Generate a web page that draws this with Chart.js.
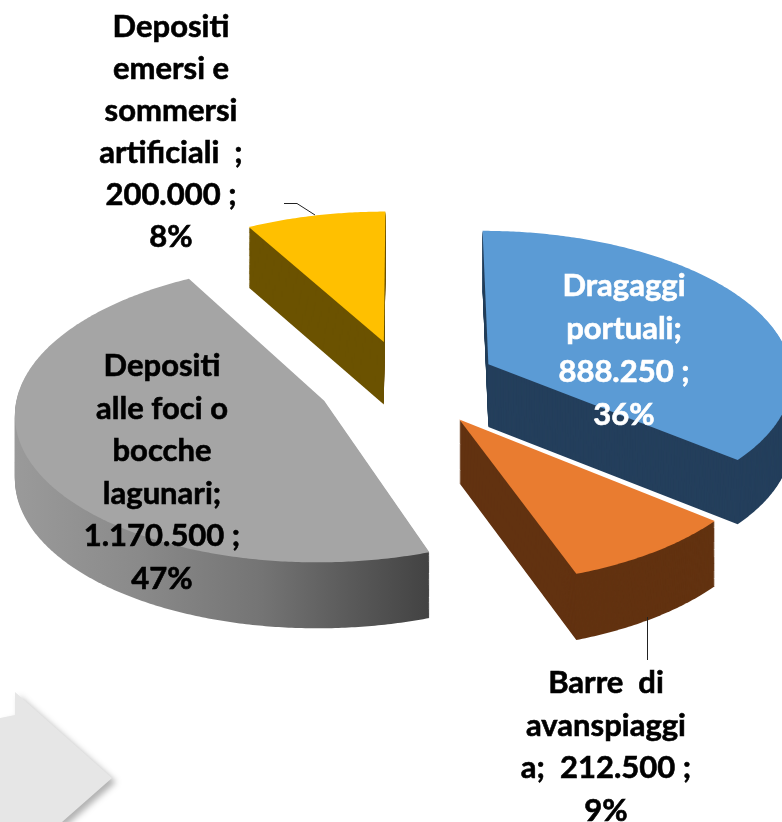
<!DOCTYPE html>
<html lang="it">
<head>
<meta charset="utf-8">
<title>Sedimenti</title>
<script src="https://cdn.jsdelivr.net/npm/chart.js@4"></script>
<style>
  html, body { margin: 0; background: #fff; }
  #wrap { position: relative; width: 782px; height: 822px; overflow: hidden; }
  #wrap canvas { position: relative; z-index: 1; }
  /* forma decorativa grigia in basso a sinistra */
  #deco { position: absolute; left: 0; top: 0; width: 782px; height: 822px; filter: drop-shadow(4px 4px 3px rgba(0,0,0,.3)); }
  #deco div { width: 100%; height: 100%; background: #e6e6e6;
    clip-path: polygon(0 718px, 15px 715px, 15px 692px, 112px 778px, 62px 822px, 0 822px); }
</style>
</head>
<body>
<div id="wrap">
  <div id="deco"><div></div></div>
  <canvas id="pie" width="782" height="822"></canvas>
</div>
<script>
// dati
const categories = ["Dragaggi portuali", "Barre di avanspiaggia", "Depositi alle foci o bocche lagunari", "Depositi emersi e sommersi artificiali"];
const volumes = [888250, 212500, 1170500, 200000];
const topColors = ["#5b9bd5", "#e97c30", "#a5a5a5", "#ffc000"];
const wallColors = ["#243f5c", "#623210", null, "#6b5200"];
const explode = [92, 91, 89, 90];
const drawOrder = [3, 0, 2, 1];

const labelLines = [
  ["Dragaggi", "portuali;", "888.250 ;", "36%"],
  ["Barre  di", "avanspiaggi", "a;  212.500 ;", "9%"],
  ["Depositi", "alle foci o", "bocche", "lagunari;", "1.170.500 ;", "47%"],
  ["Depositi", "emersi e", "sommersi", "artificiali  ;", "200.000 ;", "8%"],
];
const labelColors = ["#fff", "#000", "#000", "#000"];
const labelX = [624, 606, 162, 171];
const labelTop = [286, 683, 366, 27];
const labelStep = [43, 42.7, 42.6, 42];

// vista 3D: schiacciamento, prospettiva, spessore
const TILT = 0.48, PERSP = 0.00025, DEPTH = 63;

function project(arc, u, v) {
  const s = 1 / (1 - PERSP * v);
  return [arc.x + u * s, arc.y + TILT * v * s, s];
}

function slicePath(ctx, arc, ex, d) {
  const mid = (arc.startAngle + arc.endAngle) / 2;
  const ox = Math.cos(mid) * ex, oy = Math.sin(mid) * ex;
  const r = arc.outerRadius;
  const put = (u, v, first) => {
    const [x, y, s] = project(arc, u, v);
    const dy = d * (1 + (s - 1) / 2);
    if (first) ctx.moveTo(x, y + dy); else ctx.lineTo(x, y + dy);
  };
  ctx.beginPath();
  put(ox, oy, true);
  const steps = Math.ceil((arc.endAngle - arc.startAngle) / 0.01);
  for (let i = 0; i <= steps; i++) {
    const a = arc.startAngle + (arc.endAngle - arc.startAngle) * i / steps;
    put(ox + Math.cos(a) * r, oy + Math.sin(a) * r);
  }
  ctx.closePath();
}

const pie3d = {
  id: "pie3d",
  beforeDatasetDraw(chart) {
    const { ctx } = chart;
    const arcs = chart.getDatasetMeta(0).data;
    const grayWall = ctx.createLinearGradient(15, 0, 427, 0);
    grayWall.addColorStop(0, "#9a9a9a");
    grayWall.addColorStop(0.3, "#8a8a8a");
    grayWall.addColorStop(0.6, "#747474");
    grayWall.addColorStop(1, "#434343");
    for (const i of drawOrder) {
      ctx.save();
      ctx.fillStyle = wallColors[i] || grayWall;
      for (let d = DEPTH; d > 0; d--) {
        slicePath(ctx, arcs[i], explode[i], d);
        ctx.fill();
      }
      ctx.fillStyle = topColors[i];
      slicePath(ctx, arcs[i], explode[i], 0);
      ctx.fill();
      ctx.restore();
    }
    return false;   // le fette le disegna questo plugin
  },
  afterDraw(chart) {
    const { ctx } = chart;
    ctx.save();
    // linee guida delle etichette
    ctx.strokeStyle = "#222";
    ctx.lineWidth = 1;
    ctx.beginPath();
    ctx.moveTo(284, 203.5); ctx.lineTo(297, 203.5); ctx.lineTo(315, 215);
    ctx.moveTo(647.5, 617); ctx.lineTo(647.5, 660);
    ctx.stroke();
    ctx.font = "bold 31px Lato, sans-serif";
    ctx.textAlign = "center";
    ctx.textBaseline = "middle";
    ctx.lineWidth = 0.6;
    labelLines.forEach((lines, i) => {
      ctx.fillStyle = ctx.strokeStyle = labelColors[i];
      lines.forEach((t, j) => {
        const y = labelTop[i] + j * labelStep[i];
        ctx.fillText(t, labelX[i], y);
        ctx.strokeText(t, labelX[i], y);
      });
    });
    ctx.restore();
  },
};

new Chart(document.getElementById("pie"), {
  type: "pie",
  data: { labels: categories, datasets: [{ data: volumes, backgroundColor: topColors, borderWidth: 0 }] },
  options: {
    responsive: false, animation: false, radius: 305,
    layout: { padding: { left: 30, bottom: 56 } },
    plugins: { legend: { display: false }, tooltip: { enabled: false } },
  },
  plugins: [pie3d],
});
</script>
</body>
</html>
